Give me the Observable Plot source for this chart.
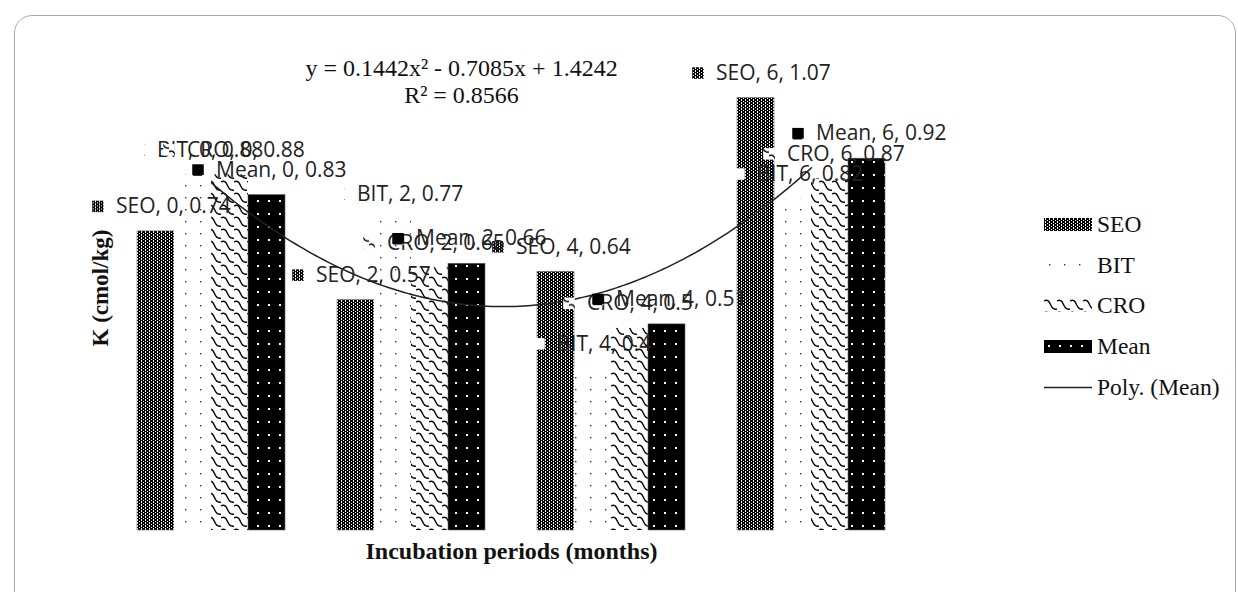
<!DOCTYPE html>
<html>
<head>
<meta charset="utf-8">
<script src="https://cdn.jsdelivr.net/npm/d3@7"></script>
<script src="https://cdn.jsdelivr.net/npm/@observablehq/plot@0.6"></script>
<style>
  html, body { margin: 0; padding: 0; background: #fff; overflow: hidden; }
  #wrap { position: relative; width: 1238px; height: 592px; overflow: hidden; }
  #frame { position: absolute; left: 14px; top: 15px; width: 1222px; height: 600px;
           border: 1.5px solid #aaa; border-radius: 18px; box-sizing: border-box; }
  #chart { position: absolute; left: 0; top: 0; }
  #legend { position: absolute; left: 1044px; top: 204px; font-family: "Liberation Serif", "Times New Roman", serif;
            font-size: 23.5px; color: #111; }
  #legend .row { display: flex; align-items: center; height: 40.8px; }
  #legend svg { margin-right: 5px; }
</style>
</head>
<body>
<svg width="0" height="0" style="position:absolute">
  <defs>
    <!-- SEO: dense black brick texture -->
    <pattern id="pat-seo" patternUnits="userSpaceOnUse" width="4" height="3">
      <rect width="4" height="3" fill="#000"/>
      <rect x="1" y="0" width="1" height="2" fill="#fff"/>
      <rect x="3" y="2" width="1" height="1" fill="#fff"/>
    </pattern>
    <!-- BIT: sparse dots -->
    <pattern id="pat-bit" patternUnits="userSpaceOnUse" width="15" height="12">
      <rect width="15" height="12" fill="#fff"/>
      <rect x="5" y="5" width="1.4" height="1.4" fill="#333"/>
    </pattern>
    <!-- CRO: wavy strokes -->
    <pattern id="pat-cro" patternUnits="userSpaceOnUse" width="13" height="12">
      <rect width="13" height="12" fill="#fff"/>
      <path d="M0,2 C3,0 5,2 6.5,5.5 S10,11 13,10" fill="none" stroke="#000" stroke-width="1.4"/>
    </pattern>
    <!-- Mean: black with white dots -->
    <pattern id="pat-mean" patternUnits="userSpaceOnUse" width="11" height="13">
      <rect width="11" height="13" fill="#000"/>
      <rect x="4" y="5" width="2" height="2" fill="#fff"/>
    </pattern>
  </defs>
</svg>

<div id="wrap">
  <div id="frame"></div>
  <div id="chart"></div>
  <div id="legend"></div>
</div>

<script>
// Incubation periods (months) and K (cmol/kg) by treatment
const periods = [0, 2, 4, 6];
const seo = [0.74, 0.57, 0.64, 1.07];
const bit = [0.88, 0.77, 0.4, 0.82];
const cro = [0.88, 0.65, 0.5, 0.87];
const mean = [0.83, 0.66, 0.51, 0.92];
const seriesNames = ["SEO", "BIT", "CRO", "Mean"];

// Polynomial trendline of the Mean series (x = category index 1..4)
const trendCoef = [0.1442, -0.7085, 1.4242];
const rSquared = 0.8566;

const seriesValues = [seo, bit, cro, mean];
const patterns = ["url(#pat-seo)", "url(#pat-bit)", "url(#pat-cro)", "url(#pat-mean)"];

// Cluster geometry in category units
const GROUP = 0.74;
const BAR = GROUP / 4;
// Data-label offsets (px) relative to the top centre of each bar
const labelDx = [-40, -36, -43, -51];
const labelDy = -25;

const rows = seriesNames.flatMap((name, k) =>
  periods.map((p, i) => ({series: name, k, period: p, value: seriesValues[k][i], pos: i + 1}))
);
const barLeft = d => d.pos - GROUP / 2 + d.k * BAR;
const barMid = d => barLeft(d) + BAR / 2;

const [a, b, c] = trendCoef;
const trendX = d3.range(1, 4.0001, 0.02);
const trend = trendX.map(x => ({x, y: a * x * x + b * x + c}));
const equation = `y = ${a}x² - ${-b}x + ${c}\nR² = ${rSquared}`;

const labelFont = {fontFamily: "'Open Sans', sans-serif", fontSize: 21, fill: "#222"};
const serif = "'Liberation Serif', serif";

const marks = [];
seriesNames.forEach((name, k) => {
  const data = rows.filter(d => d.k === k);
  marks.push(Plot.rectY(data, {
    x1: barLeft, x2: d => barLeft(d) + BAR, y: "value",
    fill: patterns[k],
    stroke: (k === 0 || k === 3) ? "#666" : "none", strokeWidth: 0.6
  }));
});
marks.push(Plot.line(trend, {x: "x", y: "y", stroke: "#222", strokeWidth: 1.5}));
seriesNames.forEach((name, k) => {
  const data = rows.filter(d => d.k === k);
  marks.push(Plot.dot(data, {
    x: barMid, y: "value", symbol: "square", r: 6.5,
    fill: patterns[k], stroke: "none", dx: labelDx[k] - 18, dy: labelDy
  }));
  marks.push(Plot.text(data, {
    x: barMid, y: "value", text: d => `${d.series}, ${d.period}, ${d.value}`,
    textAnchor: "start", lineAnchor: "middle", dx: labelDx[k], dy: labelDy, ...labelFont
  }));
});
// Trendline equation
marks.push(Plot.text([equation], {
  frameAnchor: "top", textAnchor: "middle", dx: -50, dy: 11, lineAnchor: "top", lineHeight: 1.13,
  text: d => d, fontFamily: serif, fontSize: 24, fill: "#111"
}));
// Axis titles
marks.push(Plot.text(["Incubation periods (months)"], {
  frameAnchor: "bottom", textAnchor: "middle", dy: 21, lineAnchor: "middle", text: d => d,
  fontFamily: serif, fontSize: 24, fontWeight: "bold", fill: "#111"
}));
marks.push(Plot.text(["K (cmol/kg)"], {
  frameAnchor: "left", textAnchor: "middle", dx: -11, rotate: -90, lineAnchor: "middle", text: d => d,
  fontFamily: serif, fontSize: 23, fontWeight: "bold", fill: "#111"
}));

const chart = Plot.plot({
  width: 1238,
  height: 592,
  marginLeft: 111,
  marginRight: 327,
  marginTop: 45,
  marginBottom: 62,
  x: {type: "linear", domain: [0.5, 4.5], axis: null},
  y: {domain: [0, 1.2], axis: null},
  style: {background: "transparent", overflow: "visible"},
  marks
});
document.getElementById("chart").append(chart);

// Legend
const legend = document.getElementById("legend");
seriesNames.forEach((name, k) => {
  const row = document.createElement("div");
  row.className = "row";
  row.innerHTML = `<svg width="48" height="13"><rect width="48" height="13" fill="${patterns[k]}"/></svg><span>${name}</span>`;
  legend.append(row);
});
const polyRow = document.createElement("div");
polyRow.className = "row";
polyRow.innerHTML = `<svg width="48" height="13"><line x1="0" x2="48" y1="6.5" y2="6.5" stroke="#222" stroke-width="1.5"/></svg><span>Poly. (Mean)</span>`;
legend.append(polyRow);
</script>
</body>
</html>
